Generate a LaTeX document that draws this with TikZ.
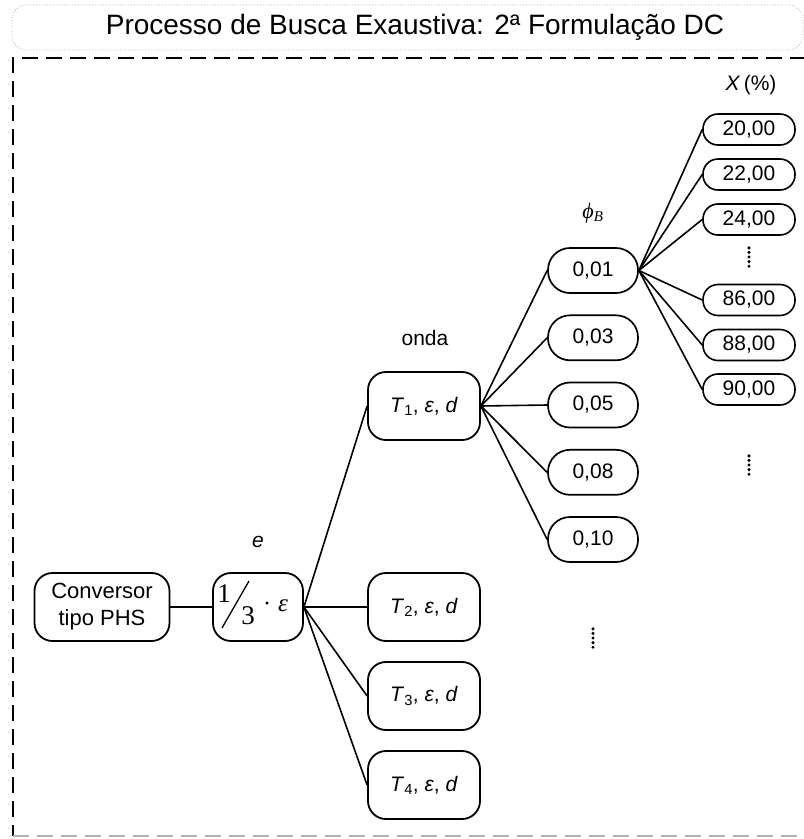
\documentclass[tikz,border=0pt]{standalone}
\usepackage{fontspec}
\setmainfont{Liberation Sans}
\newfontfamily\serifface{Liberation Serif}
\usetikzlibrary{calc}
\begin{document}
\begin{tikzpicture}[x=1pt,y=-1pt,
  txt/.style={font=\fontsize{21}{26}\selectfont, inner sep=0pt},
  bigbox/.style={draw, line width=1.8pt, rounded corners=18pt, inner sep=0pt,
    minimum height=68pt, font=\fontsize{21}{26}\selectfont, align=center},
  tbox/.style={bigbox, minimum width=112pt},
  phibox/.style={draw, line width=1.7pt, rounded corners=22pt, inner sep=0pt,
    minimum width=90pt, minimum height=45pt, font=\fontsize{21}{26}\selectfont},
  xbox/.style={draw, line width=1.6pt, rounded corners=15pt, inner sep=0pt,
    minimum width=92pt, minimum height=31pt, font=\fontsize{21}{26}\selectfont},
  link/.style={line width=1.6pt},
  dotcol/.style={fill=black}
]
\useasboundingbox (0,0) rectangle (804,839);

% header and dashed frame
\draw[gray!70, dotted, line width=0.8pt, rounded corners=15pt] (12,5) rectangle (803,50);
\node[font=\fontsize{28}{32}\selectfont, inner sep=0pt] (title) at (415,27)
  {Processo de Busca Exaustiva: 2ª Formulação DC};
\draw[line width=2pt, dash pattern=on 16pt off 8pt] (830,58) -- (13,58) -- (13,836);
\draw[gray!60, line width=1.4pt, dash pattern=on 16pt off 8pt] (13,836) -- (830,836);

% level labels
\node[txt, font=\fontsize{21}{26}\selectfont\itshape] (lble) at (258,542) {e};
\node[txt] (lblonda) at (425,338) {onda};
\node[inner sep=0pt, font=\fontsize{22}{26}\selectfont\serifface\itshape] (lblphi) at (593,213) {ϕ\textsubscript{\fontsize{15}{15}\selectfont B}};
\node[txt] (lblx) at (751,85) {\textit{X}\,(\%)};

% main nodes
\node[bigbox, minimum width=135pt, font=\fontsize{22}{27}\selectfont] (conv) at (102,607) {Conversor\\tipo PHS};
\node[bigbox, minimum width=90pt] (enode) at (258,607) {};
\node[tbox] (t1) at (424,406) {\textit{T}\textsubscript{1}, \textit{ε}, \textit{d}};
\node[tbox] (t2) at (424,607) {\textit{T}\textsubscript{2}, \textit{ε}, \textit{d}};
\node[tbox] (t3) at (424,696) {\textit{T}\textsubscript{3}, \textit{ε}, \textit{d}};
\node[tbox] (t4) at (424,785) {\textit{T}\textsubscript{4}, \textit{ε}, \textit{d}};

% fraction inside the e node
\node[inner sep=0pt, font=\fontsize{27}{27}\selectfont\serifface] (fone) at ($(enode)+(-34,-13)$) {1};
\node[inner sep=0pt, font=\fontsize{27}{27}\selectfont\serifface] (fthree) at ($(enode)+(-10,9)$) {3};
\draw[line width=1.3pt] ($(enode)+(-36,21)$) -- ($(enode)+(-9,-26)$);
\node[inner sep=0pt, font=\fontsize{24}{24}\selectfont\serifface] (fdot) at ($(enode)+(9,0)$) {·};
\node[inner sep=0pt, font=\fontsize{25}{25}\selectfont\serifface\itshape] (feps) at ($(enode)+(25,-1)$) {ε};

% second level values
\node[phibox] (p1) at (593,270.5) {0,01};
\node[phibox] (p2) at (593,337.8) {0,03};
\node[phibox] (p3) at (593,405) {0,05};
\node[phibox] (p4) at (593,472.3) {0,08};
\node[phibox] (p5) at (593,539.5) {0,10};

% third level values
\node[xbox] (x1) at (749,129.5) {20,00};
\node[xbox] (x2) at (749,174.5) {22,00};
\node[xbox] (x3) at (749,219.5) {24,00};
\node[xbox] (x4) at (749,300) {86,00};
\node[xbox] (x5) at (749,345) {88,00};
\node[xbox] (x6) at (749,389.5) {90,00};

% continuation marks
\coordinate (dotsa) at (749,257);
\coordinate (dotsb) at (749,465);
\coordinate (dotsc) at (593,638);
\foreach \c in {dotsa,dotsb,dotsc}
  \foreach \k in {-2,...,2}
    \fill[dotcol] ($(\c)+(0,\k*4.6)$) circle (1.7pt);

% connectors
\draw[link] (conv.east) -- (enode.west);
\foreach \t in {t1,t2,t3,t4}
  \draw[link] (enode.east) -- (\t.west);
\foreach \p in {p1,p2,p3,p4,p5}
  \draw[link] (t1.east) -- (\p.west);
\foreach \x in {x1,x2,x3,x4,x5,x6}
  \draw[link] (p1.east) -- (\x.west);
\end{tikzpicture}
\end{document}
